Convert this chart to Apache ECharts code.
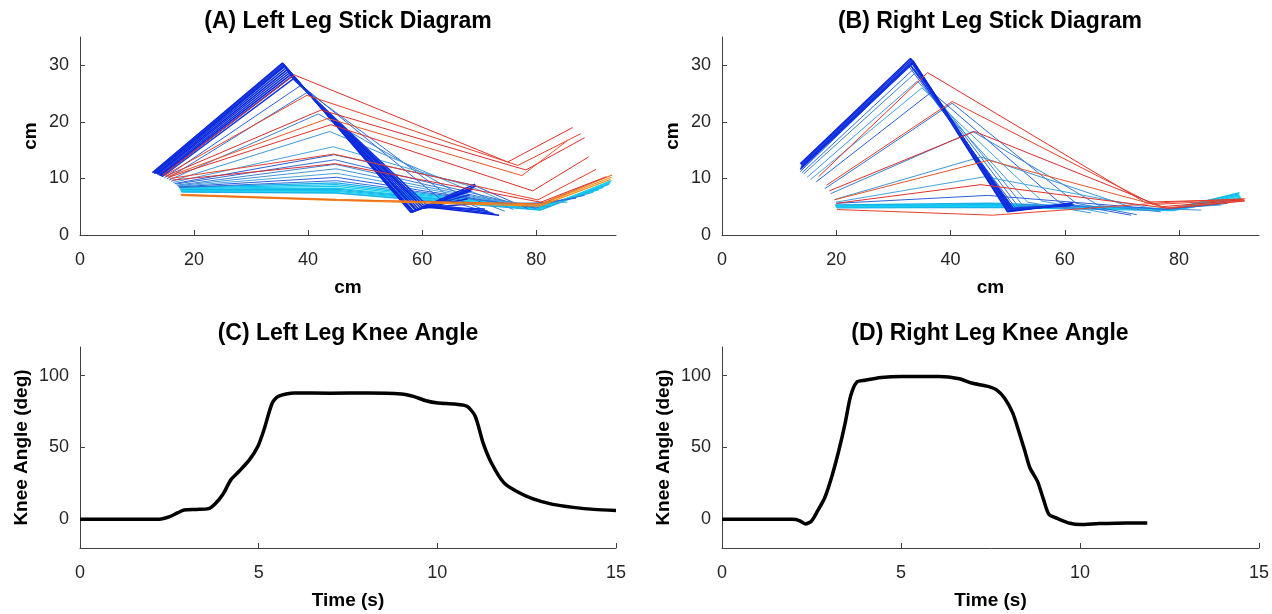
<!DOCTYPE html>
<html>
<head>
<meta charset="utf-8">
<script src="https://cdn.jsdelivr.net/npm/echarts@6.0.0/dist/echarts.min.js"></script>
<style>
html,body{margin:0;padding:0;background:#fff;}
#chart{width:1272px;height:614px;}
</style>
</head>
<body>
<div id="chart"></div>
<script>
// stick frames: hip, knee, ankle, toe (cm)
var leftDark = [
    [[12.7,11.0],[35.5,30.4],[58.0,4.0],[69.3,9.0]],
    [[12.8,11.1],[35.6,30.3],[58.1,4.0],[69.5,8.7]],
    [[12.9,11.0],[35.7,30.1],[58.3,4.1],[69.0,8.4]],
    [[13.0,10.9],[35.8,29.9],[58.4,4.1],[68.8,8.1]],
    [[13.1,10.9],[35.9,29.8],[58.5,4.2],[68.6,7.8]],
    [[13.3,10.9],[36.1,29.5],[58.8,4.4],[68.3,7.1]],
    [[13.5,10.8],[36.3,29.2],[59.0,4.5],[68.0,6.4]],
    [[13.6,10.7],[36.5,28.9],[59.3,4.7],[69.5,5.6]],
    [[13.8,10.6],[36.7,28.6],[59.6,4.9],[71.0,4.6]],
    [[14.0,10.5],[36.9,28.3],[59.9,5.1],[73.5,3.5]],
    [[14.2,10.4],[37.1,28.0],[60.2,5.3],[72.5,3.8]],
    [[14.4,10.3],[37.4,27.6],[60.6,5.5],[71.5,4.2]]
];
var leftBlue = [
    [[14.8,10.1],[38.8,26.5],[63.0,6.5],[73.0,3.6]],
    [[15.2,9.9],[40.0,25.3],[64.5,7.0],[72.0,4.0]],
    [[15.6,9.7],[41.8,21.4],[66.0,7.5],[74.5,4.2]],
    [[16.0,9.5],[43.8,18.3],[67.5,8.2],[76.0,4.5]],
    [[16.3,9.3],[44.4,15.6],[68.5,8.6],[77.5,4.6]],
    [[16.6,9.1],[44.6,14.2],[69.0,8.8],[78.5,4.7]],
    [[16.8,9.0],[44.7,13.3],[68.5,7.5],[80.0,4.7]],
    [[17.0,8.8],[44.8,12.5],[70.0,6.8],[80.5,4.8]],
    [[17.1,8.7],[44.9,11.7],[72.0,6.2],[82.5,5.0]],
    [[17.2,8.6],[45.0,10.9],[75.0,5.6],[85.5,5.8]],
    [[17.3,8.5],[45.0,10.2],[77.0,5.2],[87.0,6.5]],
    [[17.4,8.4],[45.0,9.6],[79.0,5.0],[88.5,7.0]]
];
var leftCyan = [
    [[17.4,8.4],[45.0,9.2],[80.0,4.9],[90.0,7.6]],
    [[17.5,8.3],[45.0,8.9],[80.1,4.8],[91.0,8.0]],
    [[17.5,8.2],[45.0,8.6],[80.2,4.8],[91.8,8.4]],
    [[17.6,8.1],[45.0,8.3],[80.3,4.7],[92.3,8.8]],
    [[17.6,8.0],[45.0,8.1],[80.4,4.6],[92.7,9.1]],
    [[17.7,7.9],[45.0,7.9],[80.5,4.6],[93.0,9.4]],
    [[17.7,7.8],[45.0,7.7],[80.6,4.5],[93.2,9.6]],
    [[17.7,7.7],[45.0,7.5],[80.7,4.5],[93.0,9.2]],
    [[17.8,7.6],[45.0,7.4],[80.7,4.4],[92.8,9.0]]
];
var leftOrange = [
    [[17.6,7.2],[45.0,6.3],[80.5,5.3],[93.2,10.2]],
    [[17.7,7.0],[45.0,6.1],[80.6,5.1],[93.0,9.8]],
    [[17.8,7.1],[45.0,6.2],[80.8,5.5],[93.3,10.6]]
];
var leftRed = [
    [[14.5,10.6],[37.6,28.3],[75.0,12.9],[86.4,19.0]],
    [[14.8,10.5],[39.8,24.7],[76.8,12.3],[87.8,17.9]],
    [[15.0,10.4],[42.3,22.1],[78.2,11.5],[88.5,17.2]],
    [[15.3,10.3],[43.5,20.6],[77.5,10.5],[85.6,16.8]],
    [[15.5,10.2],[44.0,19.5],[79.4,7.8],[89.2,13.8]],
    [[15.8,10.0],[44.5,14.3],[80.3,6.2],[90.5,11.6]],
    [[16.2,9.7],[44.8,12.6],[80.8,5.8],[92.3,10.3]]
];

var rightDark = [
    [[13.7,12.6],[33.0,31.2],[50.0,4.1],[61.0,5.5]],
    [[13.8,12.5],[33.2,31.0],[50.2,4.2],[61.3,5.6]],
    [[13.9,12.3],[33.4,30.8],[50.4,4.3],[61.5,5.7]],
    [[14.0,12.1],[33.5,30.6],[50.6,4.4],[61.2,5.4]],
    [[13.8,11.9],[33.3,30.3],[50.8,4.6],[61.0,5.2]],
    [[13.7,11.6],[33.0,30.0],[51.0,4.7],[61.6,5.3]]
];
var rightBlue = [
    [[13.7,11.2],[32.7,29.8],[51.3,4.9],[62.0,5.0]],
    [[14.0,11.0],[33.6,29.4],[51.8,5.1],[62.5,5.0]],
    [[14.3,10.8],[34.0,28.8],[52.5,5.4],[63.5,4.6]],
    [[14.9,10.2],[34.2,27.2],[53.5,5.8],[64.6,3.9]],
    [[15.5,9.8],[35.0,26.0],[56.0,6.0],[67.5,3.8]],
    [[16.5,9.4],[36.7,25.3],[59.0,5.8],[71.6,3.5]],
    [[18.0,8.2],[40.3,23.3],[62.0,5.6],[72.6,3.6]],
    [[19.0,7.3],[43.9,18.3],[66.0,5.2],[76.8,4.1]],
    [[19.8,6.3],[45.3,13.8],[72.0,4.8],[83.9,4.4]],
    [[19.9,5.8],[46.0,10.3],[76.0,4.6],[87.4,5.3]],
    [[20.0,5.6],[46.5,7.0],[77.5,4.5],[88.5,5.6]]
];
var rightCyan = [
    [[19.8,5.3],[47.0,5.6],[78.5,4.6],[90.5,7.3]],
    [[19.9,5.1],[47.0,5.4],[78.6,4.5],[90.6,7.1]],
    [[20.0,5.0],[47.0,5.2],[78.7,4.4],[90.7,6.9]],
    [[20.0,4.9],[47.0,5.0],[78.8,4.4],[90.8,6.7]],
    [[20.1,4.8],[47.0,4.9],[78.9,4.3],[90.9,6.5]],
    [[20.0,5.2],[47.0,5.3],[78.6,4.5],[90.6,7.5]],
    [[19.9,5.0],[47.0,5.1],[78.7,4.4],[90.8,6.3]]
];
var rightRed = [
    [[16.9,10.3],[36.0,28.7],[74.0,5.8],[91.2,6.3]],
    [[18.3,8.8],[40.3,23.6],[75.5,5.4],[91.3,6.2]],
    [[18.8,7.8],[44.2,18.3],[77.0,5.0],[91.4,6.2]],
    [[19.6,6.2],[46.7,13.2],[77.8,4.8],[91.5,6.1]],
    [[20.0,5.6],[45.3,8.9],[78.3,4.7],[91.5,6.0]],
    [[20.1,4.5],[47.4,3.5],[78.5,5.8],[91.6,6.4]]
];

// knee angle traces
var leftTime  = [0, 1, 2.22, 2.51, 2.74, 2.91, 3.26, 3.6, 3.77, 4.0, 4.23, 4.46, 4.75, 4.98, 5.15, 5.38, 5.55, 6.0, 7.0, 8.07, 8.99, 9.33, 9.68, 10.02, 10.48, 10.83, 11.06, 11.28, 11.51, 11.86, 12.2, 12.66, 13.23, 13.81, 14.38, 15.0];
var leftAngle = [0, 0, 0, 1.8, 4.6, 6.5, 6.9, 7.4, 10.4, 17.4, 27.8, 33.6, 41.7, 50.9, 62.5, 81, 85.6, 88, 87.8, 88, 87.3, 85.6, 82.6, 81, 80.3, 78.7, 71.8, 53.2, 39.4, 25.5, 19.7, 14.4, 10.4, 8.3, 6.9, 6.2];
var rightTime  = [0, 1, 1.98, 2.16, 2.33, 2.5, 2.67, 2.87, 3.07, 3.27, 3.44, 3.59, 3.76, 3.99, 4.45, 5.02, 6.06, 6.63, 6.97, 7.43, 7.66, 7.89, 8.12, 8.29, 8.46, 8.6, 8.81, 8.98, 9.13, 9.38, 9.72, 10.01, 10.53, 11.33, 11.88];
var rightAngle = [0, 0, 0, -0.9, -3.2, -1.2, 5.8, 15, 30, 48.6, 67, 85.6, 95.4, 96.8, 98.8, 99.5, 99.5, 97.9, 94.9, 92.6, 90.3, 84.5, 74.1, 61.3, 47.5, 35.9, 26.6, 13.9, 3.5, 0.5, -2.8, -3.7, -3.0, -2.5, -2.5];

var stickTicksX = [0, 20, 40, 60, 80];
var stickTicksY = [0, 10, 20, 30];
var timeTicks = [0, 5, 10, 15];
var angleTicks = [0, 50, 100];
var titles = ['(A) Left Leg Stick Diagram', '(B) Right Leg Stick Diagram', '(C) Left Leg Knee Angle', '(D) Right Leg Knee Angle'];

var FONT = "'Liberation Sans', Arial, sans-serif";
var AXIS_COLOR = '#404040';

var chart = echarts.init(document.getElementById('chart'));

function makeAxis(gridIndex, min, max, ticks, name, nameGap, isY){
    return {
        type: 'value',
        gridIndex: gridIndex,
        min: min,
        max: max,
        name: name,
        nameLocation: 'middle',
        nameGap: nameGap,
        nameTextStyle: {fontFamily: FONT, fontWeight: 'bold', fontSize: 19, color: '#000'},
        axisLine: {show: true, onZero: false, lineStyle: {color: AXIS_COLOR, width: 1}},
        axisTick: {show: true, inside: true, length: 5, customValues: ticks, lineStyle: {color: AXIS_COLOR}},
        axisLabel: {customValues: ticks, fontFamily: FONT, fontSize: 18, color: '#262626', margin: isY ? 11 : 16},
        splitLine: {show: false}
    };
}

// one line series per frame
function stickSeries(frames, colors, idx, width){
    return frames.map(function(f, i){
        return {
            type: 'line',
            xAxisIndex: idx,
            yAxisIndex: idx,
            data: f,
            symbol: 'none',
            silent: true,
            lineStyle: {width: width || 1, color: colors[i % colors.length]}
        };
    });
}

function kneeSeries(time, angle, idx){
    return {
        type: 'line',
        xAxisIndex: idx,
        yAxisIndex: idx,
        data: time.map(function(t, i){ return [t, angle[i]]; }),
        symbol: 'none',
        smooth: 0.25,
        silent: true,
        lineStyle: {width: 3.5, color: '#000'}
    };
}

var darkCols = ['#0a22d8', '#0d2ce0', '#1236e0'];
var blueCols = ['#2a5fdc', '#3370d4', '#3a84d2', '#3f95d8', '#45a4de'];
var cyanCols = ['#1ab0ea', '#12c0f0', '#18cdf0', '#22d6e8'];
var orangeCols = ['#f7941d', '#f08a10', '#f26b1f'];
var redCols = ['#e3302a', '#e8412a', '#dd2c30', '#ea5428'];

var series = [].concat(
    stickSeries(leftCyan, cyanCols, 0, 1.3),
    stickSeries(leftBlue, blueCols, 0),
    stickSeries(leftDark, darkCols, 0, 1.5),
    stickSeries(leftOrange, orangeCols, 0, 1.2),
    stickSeries(leftRed, redCols, 0),
    stickSeries(rightCyan, cyanCols, 1, 1.4),
    stickSeries(rightBlue, blueCols, 1),
    stickSeries(rightDark, darkCols, 1, 1.6),
    stickSeries(rightRed, redCols, 1),
    [kneeSeries(leftTime, leftAngle, 2), kneeSeries(rightTime, rightAngle, 3)]
);

var option = {
    animation: false,
    backgroundColor: '#fff',
    title: [
        {text: titles[0], left: 348, top: 10},
        {text: titles[1], left: 990, top: 10},
        {text: titles[2], left: 348, top: 322},
        {text: titles[3], left: 990, top: 322}
    ].map(function(t){
        t.textAlign = 'center';
        t.padding = 0;
        t.textStyle = {fontFamily: FONT, fontWeight: 'bold', fontSize: 23, color: '#000'};
        return t;
    }),
    grid: [
        {left: 80, top: 37, width: 536, height: 198},
        {left: 722, top: 37, width: 537, height: 198},
        {left: 80, top: 347, width: 536, height: 201},
        {left: 722, top: 347, width: 537, height: 201}
    ],
    xAxis: [
        makeAxis(0, 0, 94, stickTicksX, 'cm', 43, false),
        makeAxis(1, 0, 94, stickTicksX, 'cm', 43, false),
        makeAxis(2, 0, 15, timeTicks, 'Time (s)', 43, false),
        makeAxis(3, 0, 15, timeTicks, 'Time (s)', 43, false)
    ],
    yAxis: [
        makeAxis(0, 0, 35, stickTicksY, 'cm', 40, true),
        makeAxis(1, 0, 35, stickTicksY, 'cm', 40, true),
        makeAxis(2, -20, 120, angleTicks, 'Knee Angle (deg)', 49, true),
        makeAxis(3, -20, 120, angleTicks, 'Knee Angle (deg)', 49, true)
    ],
    series: series
};
chart.setOption(option);
</script>
</body>
</html>
